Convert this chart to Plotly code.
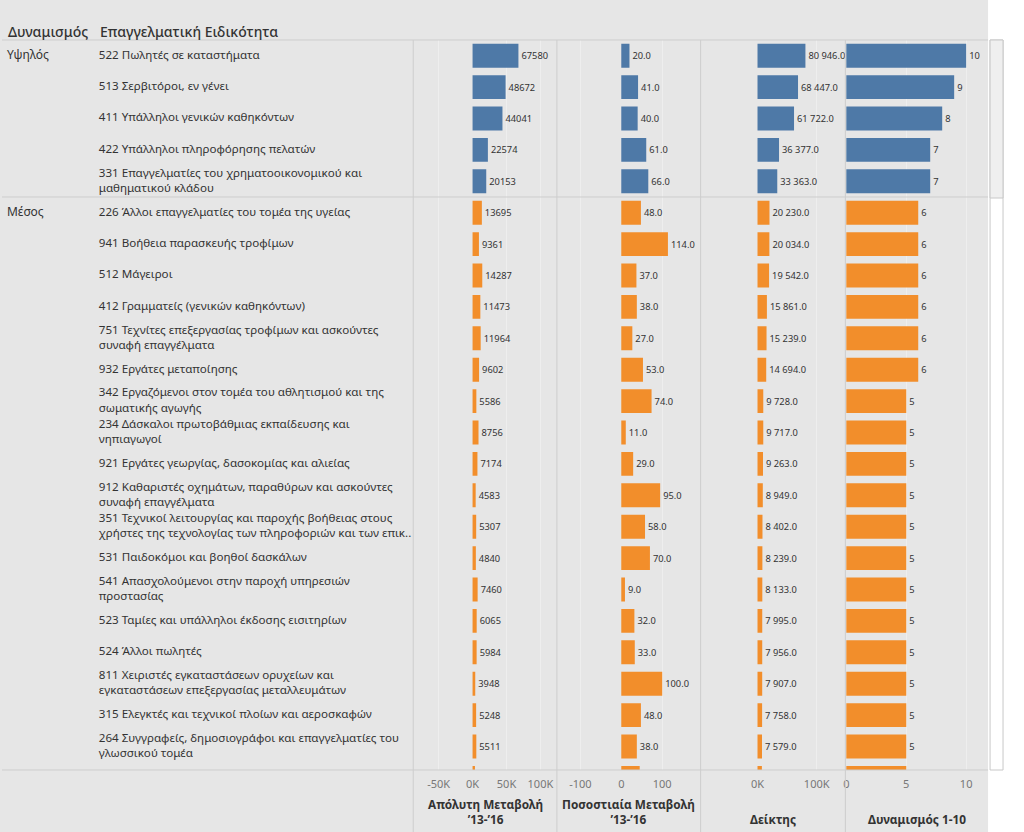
import plotly.graph_objects as go

# ---------------- data ----------------
group_names = ["Υψηλός", "Μέσος"]
groups = ["Υψηλός"] * 5 + ["Μέσος"] * 19

occupations = [
    "522 Πωλητές σε καταστήματα",
    "513 Σερβιτόροι, εν γένει",
    "411 Υπάλληλοι γενικών καθηκόντων",
    "422 Υπάλληλοι πληροφόρησης πελατών",
    "331 Επαγγελματίες του χρηματοοικονομικού και<br>μαθηματικού κλάδου",
    "226 Άλλοι επαγγελματίες του τομέα της υγείας",
    "941 Βοήθεια παρασκευής τροφίμων",
    "512 Μάγειροι",
    "412 Γραμματείς (γενικών καθηκόντων)",
    "751 Τεχνίτες επεξεργασίας τροφίμων και ασκούντες<br>συναφή επαγγέλματα",
    "932 Εργάτες μεταποίησης",
    "342 Εργαζόμενοι στον τομέα του αθλητισμού και της<br>σωματικής αγωγής",
    "234 Δάσκαλοι πρωτοβάθμιας εκπαίδευσης και<br>νηπιαγωγοί",
    "921 Εργάτες γεωργίας, δασοκομίας και αλιείας",
    "912 Καθαριστές οχημάτων, παραθύρων και ασκούντες<br>συναφή επαγγέλματα",
    "351 Τεχνικοί λειτουργίας και παροχής βοήθειας στους<br>χρήστες της τεχνολογίας των πληροφοριών και των επικ..",
    "531 Παιδοκόμοι και βοηθοί δασκάλων",
    "541 Απασχολούμενοι στην παροχή υπηρεσιών<br>προστασίας",
    "523 Ταμίες και υπάλληλοι έκδοσης εισιτηρίων",
    "524 Άλλοι πωλητές",
    "811 Χειριστές εγκαταστάσεων ορυχείων και<br>εγκαταστάσεων επεξεργασίας μεταλλευμάτων",
    "315 Ελεγκτές και τεχνικοί πλοίων και αεροσκαφών",
    "264 Συγγραφείς, δημοσιογράφοι και επαγγελματίες του<br>γλωσσικού τομέα",
    "931 Εργάτες ορυχείων και κατασκευών",
]

abs_change = [67580, 48672, 44041, 22574, 20153, 13695, 9361, 14287, 11473, 11964,
              9602, 5586, 8756, 7174, 4583, 5307, 4840, 7460, 6065, 5984,
              3948, 5248, 5511, 3500]
pct_change = [20.0, 41.0, 40.0, 61.0, 66.0, 48.0, 114.0, 37.0, 38.0, 27.0,
              53.0, 74.0, 11.0, 29.0, 95.0, 58.0, 70.0, 9.0, 32.0, 33.0,
              100.0, 48.0, 38.0, 45.0]
index_vals = [80946.0, 68447.0, 61722.0, 36377.0, 33363.0, 20230.0, 20034.0, 19542.0,
              15861.0, 15239.0, 14694.0, 9728.0, 9717.0, 9263.0, 8949.0, 8402.0,
              8239.0, 8133.0, 7995.0, 7956.0, 7907.0, 7758.0, 7579.0, 7400.0]
dynamism = [10, 9, 8, 7, 7, 6, 6, 6, 6, 6, 6, 5, 5, 5, 5, 5, 5, 5, 5, 5, 5, 5, 5, 5]

abs_ticks = [-50000, 0, 50000, 100000]
abs_ticktext = ["-50K", "0K", "50K", "100K"]
pct_ticks = [-100, 0, 100]
pct_ticktext = ["-100", "0", "100"]
idx_ticks = [0, 100000]
idx_ticktext = ["0K", "100K"]
dyn_ticks = [0, 5, 10]
dyn_ticktext = ["0", "5", "10"]

titles = ["Απόλυτη Μεταβολή<br>’13-’16", "Ποσοστιαία Μεταβολή<br>’13-’16", "Δείκτης", "Δυναμισμός 1-10"]
header_left = "Δυναμισμός"
header_right = "Επαγγελματική Ειδικότητα"

# ---------------- styling ----------------
W, H = 1024, 832
BG = "#e6e6e6"
SEP = "#cdcdcd"
GRID = "#eeeeee"
TXT = "#333333"
TICK = "#777777"
FONT = "Noto Sans"
COLORS = {"Υψηλός": "#4e79a7", "Μέσος": "#f28e2b"}

TOP, BOTTOM = 40, 770
ROW_H = 31.4
y_range = [-0.5 + (BOTTOM - TOP) / ROW_H, -0.5]


def fx(p):
    return p / W


def fy(p):
    return 1 - p / H


rows = list(range(len(occupations)))
bar_colors = [COLORS[g] for g in groups]
# rows scrolled out of view (centre below the visible window) carry no value label
row_visible = [r <= y_range[0] for r in rows]

panels = [
    dict(px=(412, 556), vals=abs_change, rng=[-87500, 124300], tv=abs_ticks, tt=abs_ticktext,
         tmpl="%{x:.0f}"),
    dict(px=(556, 700), vals=pct_change, rng=[-157.3, 193.9], tv=pct_ticks, tt=pct_ticktext,
         tmpl="%{x:.1f}"),
    dict(px=(700, 845), vals=index_vals, rng=[-96100, 148400], tv=idx_ticks, tt=idx_ticktext,
         tmpl="%{x:,.1f}"),
    dict(px=(845, 988), vals=dynamism, rng=[-0.083, 11.83], tv=dyn_ticks, tt=dyn_ticktext,
         tmpl="%{x:.0f}"),
]

fig = go.Figure()
layout = dict(
    width=W, height=H,
    margin=dict(l=0, r=0, t=0, b=0),
    paper_bgcolor=BG, plot_bgcolor=BG,
    showlegend=False,
    separators=". ",
    font=dict(family=FONT, size=12, color=TXT),
    bargap=0.24,
)

ydom = [fy(BOTTOM), fy(TOP)]

for i, p in enumerate(panels, start=1):
    xa = "x" if i == 1 else f"x{i}"
    ya = "y" if i == 1 else f"y{i}"
    fig.add_trace(go.Bar(
        x=p["vals"], y=rows, orientation="h",
        marker=dict(color=bar_colors, line=dict(width=0)),
        texttemplate=[p["tmpl"] if v else "" for v in row_visible],
        textposition="outside",
        textfont=dict(size=9.3, color=TXT, family=FONT),
        constraintext="none", cliponaxis=True,
        xaxis=xa, yaxis=ya, hoverinfo="skip",
    ))
    grid_vals = [v for v in p["tv"] if v != 0]
    layout[f"xaxis{'' if i == 1 else i}"] = dict(
        domain=[fx(p["px"][0]), fx(p["px"][1])], range=p["rng"], anchor=ya,
        tickmode="array", tickvals=p["tv"], ticktext=p["tt"],
        showgrid=False, zeroline=False, showline=False, ticks="",
        ticklabelstandoff=6,
        tickfont=dict(size=11, color=TICK, family=FONT),
        minor=dict(tickmode="array", tickvals=grid_vals, showgrid=True,
                   gridcolor=GRID, gridwidth=1, ticks=""),
        fixedrange=True,
    )
    layout[f"yaxis{'' if i == 1 else i}"] = dict(
        domain=ydom, range=y_range, anchor=xa, showticklabels=False,
        showgrid=False, zeroline=False, showline=False, ticks="", fixedrange=True,
    )

# label column
first_rows = [groups.index(g) for g in group_names]
fig.add_trace(go.Scatter(
    x=[97] * len(occupations), y=rows, text=occupations, mode="text",
    textposition="middle right", textfont=dict(size=11.6, color=TXT, family=FONT),
    xaxis="x5", yaxis="y5", hoverinfo="skip", cliponaxis=True,
))
fig.add_trace(go.Scatter(
    x=[5] * len(group_names), y=first_rows, text=group_names, mode="text",
    textposition="middle right", textfont=dict(size=12, color=TXT, family=FONT),
    xaxis="x5", yaxis="y5", hoverinfo="skip", cliponaxis=True,
))
layout["xaxis5"] = dict(domain=[0, fx(412)], range=[0, 412], anchor="y5", visible=False,
                        fixedrange=True)
layout["yaxis5"] = dict(domain=ydom, range=y_range, anchor="x5", visible=False,
                        fixedrange=True)

# shapes
shapes = []
shapes.append(dict(type="rect", xref="paper", yref="paper", x0=fx(988), x1=1, y0=0, y1=1,
                   fillcolor="white", line=dict(width=0), layer="below"))
for ypx in (TOP, BOTTOM):
    shapes.append(dict(type="line", xref="paper", yref="paper", x0=0, x1=fx(988),
                       y0=fy(ypx), y1=fy(ypx), line=dict(color=SEP, width=1), layer="above"))
# group separator
boundary = first_rows[1] - 0.5
shapes.append(dict(type="line", xref="paper", yref="y", x0=0, x1=fx(988),
                   y0=boundary, y1=boundary, line=dict(color=SEP, width=1), layer="above"))
for xpx in (412, 556, 700, 845):
    shapes.append(dict(type="line", xref="paper", yref="paper", x0=fx(xpx), x1=fx(xpx),
                       y0=0, y1=fy(TOP), line=dict(color=SEP, width=1), layer="above"))
# scrollbar
shapes.append(dict(type="rect", xref="paper", yref="paper", x0=fx(990), x1=fx(1003),
                   y0=fy(BOTTOM), y1=fy(TOP), fillcolor="white",
                   line=dict(color="#c8c8c8", width=1), layer="above"))
shapes.append(dict(type="rect", xref="paper", yref="paper", x0=fx(990), x1=fx(1003),
                   y0=fy(198), y1=fy(TOP), fillcolor="#efefef",
                   line=dict(color="#c8c8c8", width=1), layer="above"))
layout["shapes"] = shapes

# annotations
ann = []
ann.append(dict(text=header_left, x=fx(4), y=fy(31), xref="paper", yref="paper",
                xanchor="left", yanchor="middle", showarrow=False,
                font=dict(size=14, color=TXT, family=FONT, weight=500)))
ann.append(dict(text=header_right, x=fx(96), y=fy(31), xref="paper", yref="paper",
                xanchor="left", yanchor="middle", showarrow=False,
                font=dict(size=14, color=TXT, family=FONT, weight=500)))
for p, t in zip(panels, titles):
    cx = (p["px"][0] + p["px"][1]) / 2
    ann.append(dict(text=f"<b>{t}</b>", x=fx(cx), y=fy(828), xref="paper", yref="paper",
                    xanchor="center", yanchor="bottom", showarrow=False, borderpad=0,
                    font=dict(size=11.8, color=TXT, family=FONT)))
layout["annotations"] = ann

fig.update_layout(**layout)

fig.write_html(
    "out.html",
    config={"displayModeBar": False, "staticPlot": True},
    post_script="document.body.style.margin='0';document.body.style.overflow='hidden';",
)
